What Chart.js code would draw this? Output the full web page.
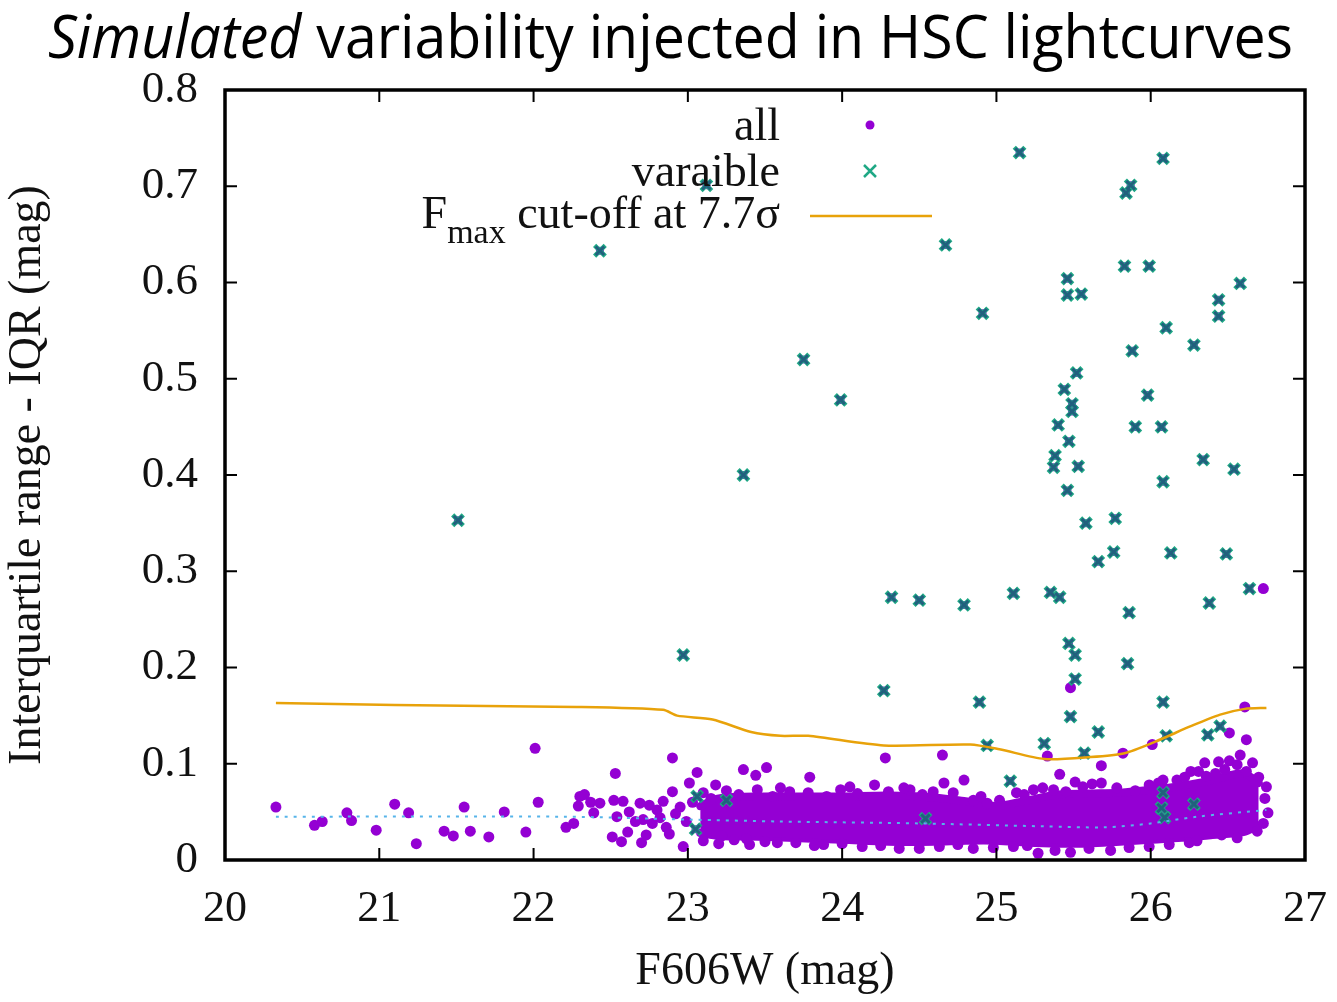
<!DOCTYPE html>
<html>
<head>
    <meta charset="utf-8">
    <title>HSC variability</title>
    <style>
        body { margin: 0; background: #fff; }
        #wrap { position: relative; width: 1337px; height: 1002px; overflow: hidden; }
        #title {
            position: absolute; left: 48px; top: 5px;
            font-family: "Open Sans", sans-serif; font-size: 60px; line-height: 60px;
            white-space: nowrap; color: #000; transform-origin: 0 0;
        }
        canvas { position: absolute; left: 0; top: 0; }
    </style>
</head>
<body>
    <div id="wrap">
        <canvas id="myChart" width="1337" height="1002"></canvas>
        <div id="title"><span id="titleText"><i>Simulated</i> variability injected in HSC lightcurves</span></div>
    </div>

<script src="https://cdn.jsdelivr.net/npm/chart.js@4/dist/chart.umd.min.js"></script>
<script>
    // all sources (sparse dots + dots on the edge of the dense cloud)
    const allMag = [
        20.33, 20.58, 20.63, 20.79, 20.82, 20.98, 21.10, 21.19, 21.24, 21.42, 21.48, 21.55, 21.59, 21.71,
        21.81, 21.95, 22.01, 22.03, 22.21, 22.26, 22.30, 22.29, 22.33, 22.37, 22.43, 22.39, 22.53, 22.52,
        22.58, 22.54, 22.51, 22.57, 22.61, 22.69, 22.75, 22.71, 22.70, 22.80, 22.77, 22.90, 22.90, 22.86,
        22.97, 23.01, 23.06, 22.95, 23.18, 23.36, 23.44, 23.51, 23.79, 23.88, 24.05, 24.21, 24.28, 24.65,
        24.66, 24.79, 25.27, 25.33, 25.41, 25.51, 25.68, 25.68, 25.82, 26.01, 26.08, 26.26, 26.31, 26.35,
        26.44, 26.51, 26.58, 26.62, 26.51, 26.61, 25.48, 26.73,
        23.10, 23.25, 23.45, 23.60, 23.78, 23.99, 24.30, 24.44, 24.59, 24.72, 24.85, 24.94, 25.02, 25.13,
        25.24, 25.37, 25.56, 25.78, 25.99, 26.17, 26.36, 26.56, 26.66, 26.75, 26.76,
        23.10, 23.30, 23.50, 23.70, 24.13, 24.37, 24.63, 24.85, 25.11, 25.48, 25.74, 25.99, 26.25, 26.56, 26.73,
        22.62, 22.66, 22.73, 22.82, 22.84, 22.88, 22.92, 22.99, 23.03, 23.15, 23.22, 23.33, 23.40, 23.55,
        23.66, 23.90, 24.10, 24.40, 24.52, 24.90, 25.18, 25.30, 25.45, 25.62, 25.90, 26.05, 26.22, 26.42,
        26.48, 26.62, 26.70, 26.74, 26.69, 26.46, 26.30, 26.12, 25.86, 25.60, 25.38, 25.20, 24.98, 24.75,
        24.50, 24.25, 24.00, 23.82, 23.58, 23.38, 23.20
    ];
    const allIqr = [
        0.055, 0.036, 0.040, 0.049, 0.041, 0.031, 0.058, 0.049, 0.017, 0.030, 0.025, 0.055, 0.030, 0.024,
        0.050, 0.029, 0.116, 0.060, 0.034, 0.038, 0.066, 0.056, 0.068, 0.060, 0.059, 0.049, 0.090, 0.062,
        0.061, 0.045, 0.024, 0.019, 0.029, 0.059, 0.057, 0.042, 0.018, 0.052, 0.038, 0.106, 0.071, 0.034,
        0.014, 0.080, 0.091, 0.055, 0.078, 0.094, 0.088, 0.096, 0.086, 0.016, 0.076, 0.078, 0.106, 0.109,
        0.080, 0.083, 0.007, 0.108, 0.089, 0.081, 0.098, 0.080, 0.111, 0.120, 0.083, 0.092, 0.092, 0.101,
        0.102, 0.103, 0.109, 0.125, 0.132, 0.159, 0.179, 0.282,
        0.070, 0.072, 0.073, 0.075, 0.070, 0.073, 0.071, 0.073, 0.071, 0.070, 0.062, 0.059, 0.062, 0.070,
        0.073, 0.073, 0.076, 0.075, 0.078, 0.083, 0.087, 0.099, 0.101, 0.076, 0.049,
        0.020, 0.021, 0.019, 0.018, 0.014, 0.012, 0.014, 0.012, 0.014, 0.008, 0.010, 0.014, 0.018, 0.023, 0.038,
        0.050, 0.040, 0.026, 0.044, 0.061, 0.027, 0.048, 0.040, 0.060, 0.064, 0.025, 0.068, 0.016, 0.066,
        0.071, 0.066, 0.069, 0.075, 0.068, 0.066, 0.068, 0.075, 0.071, 0.079, 0.072, 0.080, 0.086, 0.090,
        0.094, 0.092, 0.086, 0.064, 0.030, 0.026, 0.020, 0.016, 0.013, 0.012, 0.010, 0.015, 0.013, 0.016,
        0.012, 0.015, 0.017, 0.015, 0.018, 0.022, 0.017
    ];

    // the dense cloud of "all" points, read as a top / bottom envelope
    const coreMag = [23.08, 23.20, 23.50, 23.80, 24.00, 24.30, 24.60, 24.80, 25.00, 25.20, 25.40, 25.60, 25.80, 26.00, 26.20, 26.40, 26.60, 26.70];
    const coreTop = [0.056, 0.064, 0.066, 0.066, 0.066, 0.067, 0.065, 0.061, 0.056, 0.062, 0.068, 0.069, 0.070, 0.073, 0.077, 0.083, 0.090, 0.080];
    const coreBottom = [0.028, 0.025, 0.024, 0.022, 0.021, 0.019, 0.019, 0.020, 0.020, 0.018, 0.017, 0.017, 0.019, 0.021, 0.023, 0.026, 0.029, 0.036];

    // variable sources
    const varMag = [
        21.51, 22.43, 22.97, 23.12, 23.36, 23.75, 23.99, 24.27, 24.32, 24.50, 24.67, 24.79, 24.89, 24.91,
        24.94, 25.09, 25.11, 25.15, 25.31, 25.35, 25.41, 25.37, 25.38, 25.40, 25.47, 25.44, 25.49, 25.49,
        25.46, 25.46, 25.46, 25.55, 25.52, 25.53, 25.47, 25.51, 25.51, 25.48, 25.57, 25.58, 25.66, 25.66,
        25.76, 25.77, 25.83, 25.84, 25.87, 25.85, 25.86, 25.88, 25.90, 25.98, 25.99, 26.07, 26.08, 26.08,
        26.10, 26.08, 26.10, 26.13, 26.28, 26.34, 26.37, 26.38, 26.44, 26.44, 26.45, 26.49, 26.54, 26.58,
        26.64,
        23.06, 23.25, 23.05, 24.54, 26.08, 26.07, 26.28, 26.09
    ];
    const varIqr = [
        0.353, 0.633, 0.213, 0.701, 0.400, 0.520, 0.478, 0.176, 0.273, 0.270, 0.639, 0.265, 0.164, 0.568,
        0.119, 0.082, 0.277, 0.735, 0.121, 0.278, 0.273, 0.408, 0.420, 0.452, 0.435, 0.489, 0.474, 0.466,
        0.384, 0.604, 0.587, 0.588, 0.506, 0.409, 0.225, 0.213, 0.188, 0.149, 0.111, 0.350, 0.133, 0.310,
        0.320, 0.355, 0.617, 0.693, 0.701, 0.204, 0.257, 0.529, 0.450, 0.483, 0.617, 0.450, 0.729, 0.393,
        0.553, 0.164, 0.129, 0.319, 0.535, 0.416, 0.130, 0.267, 0.582, 0.565, 0.139, 0.318, 0.406, 0.599,
        0.282,
        0.066, 0.062, 0.032, 0.043, 0.070, 0.054, 0.058, 0.044
    ];

    // Fmax cut-off at 7.7 sigma
    const cutMag = [20.33, 21.10, 22.28, 22.84, 22.93, 23.16, 23.41, 23.60, 23.78, 24.27, 24.83, 25.02, 25.31, 25.61, 25.83, 26.03, 26.26, 26.45, 26.61, 26.75];
    const cutIqr = [0.163, 0.161, 0.159, 0.156, 0.150, 0.146, 0.133, 0.129, 0.129, 0.119, 0.120, 0.115, 0.105, 0.107, 0.111, 0.123, 0.139, 0.151, 0.157, 0.158];

    // running median (dotted blue)
    const medMag = [20.33, 22.20, 23.00, 23.60, 24.50, 25.30, 25.70, 26.00, 26.30, 26.75];
    const medIqr = [0.045, 0.045, 0.042, 0.040, 0.038, 0.035, 0.034, 0.038, 0.045, 0.052];

    const xTicks = [20, 21, 22, 23, 24, 25, 26, 27];
    const yTicks = [0, 0.1, 0.2, 0.3, 0.4, 0.5, 0.6, 0.7, 0.8];

    const purple = '#9400d3';
    const green = '#1fa885';
    const orange = '#e8a20a';
    const blue = '#56b4e9';
    const serif = "'Liberation Serif', 'Times New Roman', serif";

    function pts(xs, ys) {
        return xs.map((v, i) => ({ x: v, y: ys[i] }));
    }

    // fit the title to the width it has in the picture
    const tt = document.getElementById('titleText');
    const tw = tt.getBoundingClientRect().width;
    document.getElementById('title').style.transform = 'scaleX(' + (1245 / tw) + ')';

    const framePlugin = {
        id: 'frame',
        afterDatasetsDraw(chart) {
            const { ctx, chartArea: a, scales } = chart;
            const x = scales.x, y = scales.y;
            ctx.save();
            ctx.strokeStyle = '#000';
            ctx.lineWidth = 2;
            ctx.beginPath();
            xTicks.forEach(t => {
                const px = x.getPixelForValue(t);
                ctx.moveTo(px, a.bottom); ctx.lineTo(px, a.bottom - 12);
                ctx.moveTo(px, a.top); ctx.lineTo(px, a.top + 12);
            });
            yTicks.forEach(t => {
                const py = y.getPixelForValue(t);
                ctx.moveTo(a.left, py); ctx.lineTo(a.left + 12, py);
                ctx.moveTo(a.right, py); ctx.lineTo(a.right - 12, py);
            });
            ctx.stroke();
            ctx.lineWidth = 3.5;
            ctx.strokeRect(a.left, a.top, a.right - a.left, a.bottom - a.top);

            // key
            const right = a.left + 555;
            ctx.fillStyle = '#111';
            ctx.textAlign = 'right';
            ctx.textBaseline = 'alphabetic';
            ctx.font = '46px ' + serif;
            ctx.fillText('all', right, a.top + 50);
            ctx.fillText('varaible', right, a.top + 96);
            const rest = ' cut-off at 7.7\u03c3';
            const wRest = ctx.measureText(rest).width;
            ctx.fillText(rest, right, a.top + 138);
            ctx.font = '34px ' + serif;
            const wSub = ctx.measureText('max').width;
            ctx.fillText('max', right - wRest, a.top + 153);
            ctx.font = '46px ' + serif;
            ctx.fillText('F', right - wRest - wSub, a.top + 138);

            ctx.fillStyle = purple;
            ctx.beginPath();
            ctx.arc(a.left + 645, a.top + 35, 4.5, 0, Math.PI * 2);
            ctx.fill();
            ctx.strokeStyle = green;
            ctx.lineWidth = 2.5;
            ctx.beginPath();
            ctx.moveTo(a.left + 639, a.top + 75); ctx.lineTo(a.left + 651, a.top + 87);
            ctx.moveTo(a.left + 651, a.top + 75); ctx.lineTo(a.left + 639, a.top + 87);
            ctx.stroke();
            ctx.strokeStyle = orange;
            ctx.lineWidth = 2.5;
            ctx.beginPath();
            ctx.moveTo(a.left + 585, a.top + 126); ctx.lineTo(a.left + 707, a.top + 126);
            ctx.stroke();
            ctx.restore();
        }
    };

    const ctx = document.getElementById('myChart').getContext('2d');
    const myChart = new Chart(ctx, {
        type: 'scatter',
        data: {
            datasets: [
                {
                    label: 'median', type: 'line', data: pts(medMag, medIqr), order: 0,
                    borderColor: blue, borderWidth: 2, borderDash: [3, 6], pointRadius: 0, tension: 0.3, fill: false
                },
                {
                    label: 'Fmax cut-off at 7.7σ', type: 'line', data: pts(cutMag, cutIqr), order: 1,
                    borderColor: orange, borderWidth: 2.5, pointRadius: 0, tension: 0.25, fill: false
                },
                {
                    label: 'varaible', data: pts(varMag, varIqr), order: 2,
                    pointStyle: 'crossRot', pointRadius: 6, borderWidth: 3, borderColor: '#22607e', backgroundColor: '#22607e'
                },
                {
                    label: 'varaible halo', data: pts(varMag, varIqr), order: 3,
                    pointStyle: 'crossRot', pointRadius: 7.5, borderWidth: 4.5, borderColor: green, backgroundColor: green
                },
                {
                    label: 'varaible base', data: pts(varMag, varIqr), order: 4,
                    pointRadius: 4, borderWidth: 0, backgroundColor: purple
                },
                {
                    label: 'all', data: pts(allMag, allIqr), order: 5,
                    pointRadius: 5.5, borderWidth: 0, backgroundColor: purple
                },
                {
                    label: 'core top', type: 'line', data: pts(coreMag, coreTop), order: 6,
                    borderColor: purple, borderWidth: 8, pointRadius: 0, tension: 0.3,
                    borderJoinStyle: 'round', borderCapStyle: 'round',
                    backgroundColor: purple, fill: '+1'
                },
                {
                    label: 'core bottom', type: 'line', data: pts(coreMag, coreBottom), order: 7,
                    borderColor: purple, borderWidth: 8, pointRadius: 0, tension: 0.3,
                    borderJoinStyle: 'round', borderCapStyle: 'round', fill: false
                }
            ]
        },
        options: {
            responsive: false,
            animation: false,
            events: [],
            layout: { padding: { top: 90, right: 32, bottom: 0, left: 0 } },
            plugins: { legend: { display: false }, title: { display: false }, tooltip: { enabled: false } },
            scales: {
                x: {
                    type: 'linear', min: 20, max: 27,
                    afterFit: s => { s.height = 142; s.paddingLeft = 0; s.paddingRight = 0; },
                    afterBuildTicks: s => { s.ticks = xTicks.map(v => ({ value: v })); },
                    grid: { display: false }, border: { display: false },
                    ticks: { color: '#111', font: { family: serif, size: 44 }, padding: 15, maxRotation: 0, callback: v => String(v) },
                    title: { display: true, text: 'F606W (mag)', color: '#111', font: { family: serif, size: 46 }, padding: { top: 0, bottom: 2 } }
                },
                y: {
                    type: 'linear', min: 0, max: 0.8,
                    afterFit: s => { s.width = 225; s.paddingTop = 0; s.paddingBottom = 0; },
                    afterBuildTicks: s => { s.ticks = yTicks.map(v => ({ value: v })); },
                    grid: { display: false }, border: { display: false },
                    ticks: { color: '#111', font: { family: serif, size: 45 }, padding: 19, callback: v => v === 0 ? '0' : v.toFixed(1) },
                    title: { display: true, text: 'Interquartile range - IQR (mag)', color: '#111', font: { family: serif, size: 46 }, padding: { top: 0, bottom: 10 } }
                }
            }
        },
        plugins: [framePlugin]
    });
</script>
</body>
</html>
